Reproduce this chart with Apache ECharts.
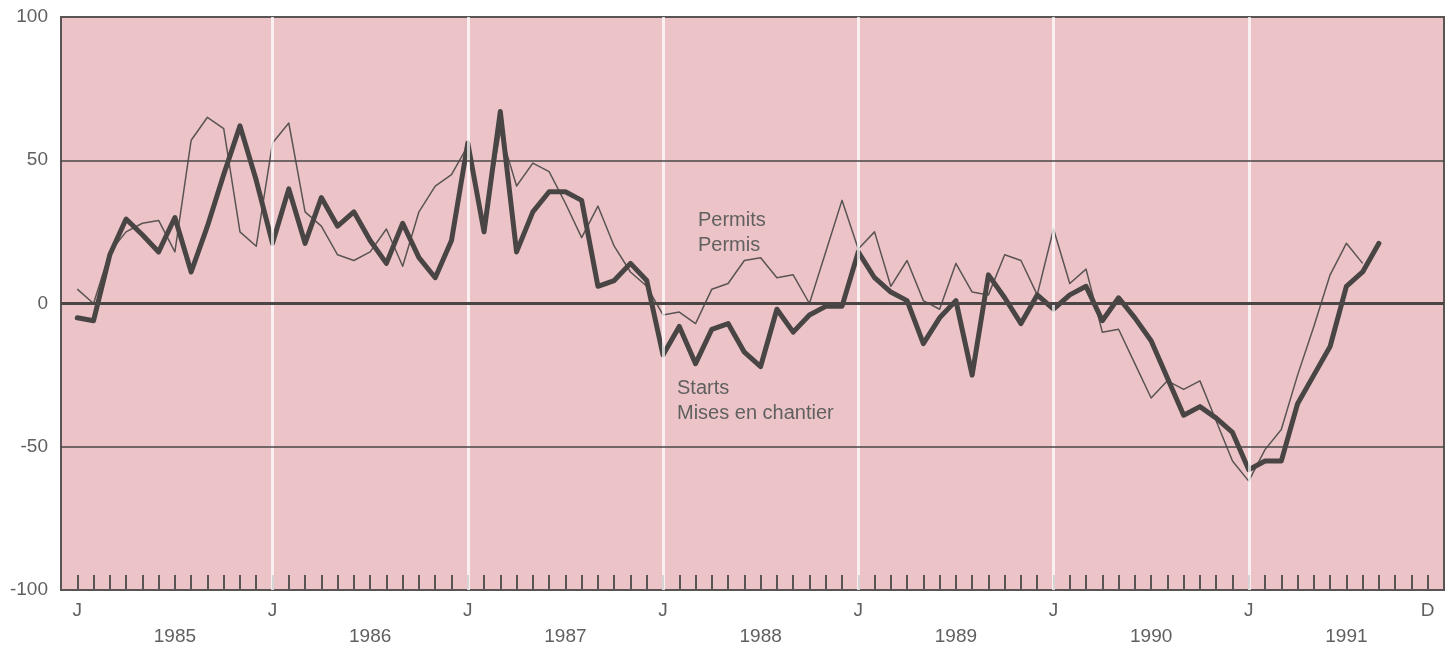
<!DOCTYPE html>
<html>
<head>
<meta charset="utf-8">
<script src="https://cdn.jsdelivr.net/npm/echarts@6/dist/echarts.min.js"></script>
<style>
html,body{margin:0;padding:0;background:#ffffff;}
#chart{width:1453px;height:648px;}
</style>
</head>
<body>
<div id="chart"></div>
<script>
// Months indexed from January 1985 (0) to December 1991 (83)
var starts = [
  -5, -6, 17, 29.5, 24, 18, 30, 11, 27, 45, 62, 43,
  21, 40, 21, 37, 27, 32, 22, 14, 28, 16, 9, 22,
  56, 25, 67, 18, 32, 39, 39, 36, 6, 8, 14, 8,
  -18, -8, -21, -9, -7, -17, -22, -2, -10, -4, -1, -1,
  18, 9, 4, 1, -14, -5, 1, -25, 10, 2, -7, 3,
  -2, 3, 6, -6, 2, -5, -13, -26, -39, -36, -40, -45,
  -58, -55, -55, -35, -25, -15, 6, 11, 21
];
var permits = [
  5, 0, 18, 25, 28, 29, 18, 57, 65, 61, 25, 20,
  56, 63, 32, 27, 17, 15, 18, 26, 13, 32, 41, 45,
  55, 27, 60, 41, 49, 46, 35, 23, 34, 20, 11, 6,
  -4, -3, -7, 5, 7, 15, 16, 9, 10, 0, 18, 36,
  19, 25, 6, 15, 1, -2, 14, 4, 3, 17, 15, 3,
  26, 7, 12, -10, -9, -21, -33, -27, -30, -27, -41, -55,
  -62, -51, -44, -25, -8, 10, 21, 14
];
var monthLabelPos = [0, 12, 24, 36, 48, 60, 72, 83];
var monthLabelText = ['J', 'J', 'J', 'J', 'J', 'J', 'J', 'D'];
var years = ['1985', '1986', '1987', '1988', '1989', '1990', '1991'];
var januaryLines = [12, 24, 36, 48, 60, 72];
var refLines = [50, -50];
var zeroLine = [0];
var yTicks = [-100, -50, 0, 50, 100];

function pairs(arr) { return arr.map(function (v, i) { return [i, v]; }); }

var FONT = '"Liberation Sans", Arial, Helvetica, sans-serif';
var TXT = '#606060';
var LINE = '#4a4646';

var chart = echarts.init(document.getElementById('chart'), null, {renderer: 'canvas'});
chart.setOption({
  animation: false,
  backgroundColor: '#ffffff',
  grid: {
    left: 61, right: 9, top: 17, bottom: 58,
    show: true,
    backgroundColor: '#ecc4c7',
    borderColor: '#5a5555',
    borderWidth: 2
  },
  xAxis: [{
    type: 'value', min: -1, max: 84, interval: 1, z: 2,
    axisLine: {show: false, onZero: false},
    axisTick: {show: true, inside: true, length: 15, lineStyle: {color: '#5a5555', width: 2}},
    splitLine: {show: false},
    axisLabel: {
      margin: 11, color: TXT, fontFamily: FONT, fontSize: 19,
      formatter: function (v) {
        var k = monthLabelPos.indexOf(v);
        return k >= 0 ? monthLabelText[k] : '';
      }
    }
  }, {
    type: 'value', min: -1, max: 84, interval: 1, position: 'bottom', offset: 25,
    axisLine: {show: false, onZero: false}, axisTick: {show: false}, splitLine: {show: false},
    axisLabel: {
      margin: 12, color: TXT, fontFamily: FONT, fontSize: 19,
      formatter: function (v) {
        if (v >= 0 && v % 12 === 6) { return years[(v - 6) / 12] || ''; }
        return '';
      }
    }
  }],
  yAxis: {
    type: 'value', min: yTicks[0], max: yTicks[yTicks.length - 1], interval: 50,
    axisLine: {show: false}, axisTick: {show: false}, splitLine: {show: false},
    axisLabel: {margin: 13, color: TXT, fontFamily: FONT, fontSize: 19}
  },
  series: [{
    name: 'jan', type: 'line', data: [], z: 1, silent: true,
    markLine: {
      silent: true, symbol: 'none', label: {show: false},
      lineStyle: {color: 'rgba(255,255,255,0.75)', width: 3, type: 'solid'},
      data: januaryLines.map(function (x) { return {xAxis: x}; })
    }
  }, {
    name: 'ref', type: 'line', data: [], z: 1.5, silent: true,
    markLine: {
      silent: true, symbol: 'none', label: {show: false},
      lineStyle: {color: LINE, width: 1.6, type: 'solid'},
      data: refLines.map(function (y) { return {yAxis: y}; })
    }
  }, {
    name: 'zero', type: 'line', data: [], z: 1.6, silent: true,
    markLine: {
      silent: true, symbol: 'none', label: {show: false},
      lineStyle: {color: LINE, width: 3, type: 'solid'},
      data: zeroLine.map(function (y) { return {yAxis: y}; })
    }
  }, {
    name: 'Permits', type: 'line', data: pairs(permits), z: 3,
    symbol: 'none', lineStyle: {color: '#5a5454', width: 1.5, join: 'round'}
  }, {
    name: 'Starts', type: 'line', data: pairs(starts), z: 4,
    symbol: 'none', lineStyle: {color: '#4a4545', width: 5, join: 'round', cap: 'round'}
  }],
  graphic: [
    {type: 'text', left: 698, top: 208, style: {text: 'Permits\nPermis', fill: TXT, font: '20px ' + FONT, lineHeight: 25}},
    {type: 'text', left: 677, top: 376, style: {text: 'Starts\nMises en chantier', fill: TXT, font: '20px ' + FONT, lineHeight: 25}}
  ]
});
</script>
</body>
</html>
